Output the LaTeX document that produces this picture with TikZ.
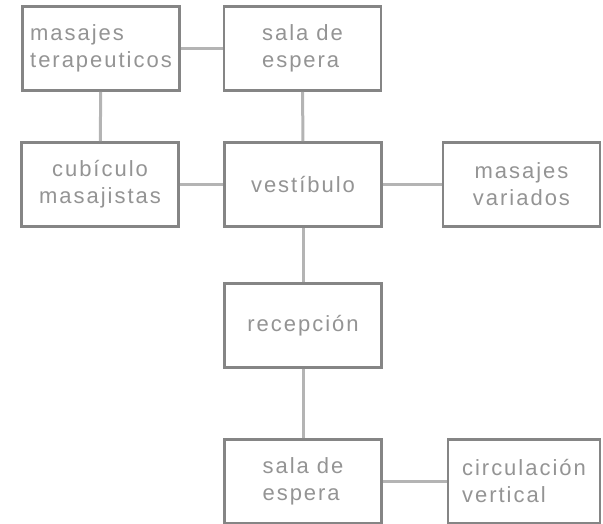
\documentclass[tikz,border=0pt]{standalone}
\usepackage{fontspec}
\setmainfont{Liberation Sans}[LetterSpace=9]
\usepackage{xcolor}
\usetikzlibrary{calc}

\definecolor{boxgray}{HTML}{858585}
\definecolor{textgray}{HTML}{949494}
\definecolor{linkgray}{HTML}{B4B4B4}

\begin{document}
\begin{tikzpicture}[x=1pt, y=-1pt,
		room/.style = {draw = boxgray, line width = 2.6pt, fill = white, text = textgray,
			inner sep = 0pt, font = \fontsize{22}{27}\selectfont},
		link/.style = {draw = linkgray, line width = 3pt}]
			\useasboundingbox (0,0) rectangle (603,524);
			
			\def\w{157};
			\def\h{84};
			
			% rooms
			\node [room, minimum width = \w, minimum height = \h, align = left] (terapeuticos) at (101,48.5) {masajes\\terapeuticos};
			\node [room, minimum width = \w, minimum height = \h, align = left] (sala arriba) at (302.5,48.5) {sala de\\espera};
			\node [room, minimum width = \w, minimum height = \h, align = center] (cubiculo) at (100,184.5) {cubículo\\masajistas};
			\node [room, minimum width = \w, minimum height = \h] (vestibulo) at (303,184.5) {vestíbulo};
			\node [room, minimum width = \w, minimum height = \h, align = center] (variados) at (521.5,184.5) {masajes\\variados};
			\node [room, minimum width = \w, minimum height = \h] (recepcion) at (303,325.5) {recepción};
			\node [room, minimum width = \w, minimum height = \h, align = left] (sala abajo) at (303,481.5) {sala de\\espera};
			\node [room, minimum width = 152, minimum height = \h, align = left] (circulacion) at (524,481.5) {circulación\\vertical};
			
			% links
			\begin{scope}[link]
				\draw (terapeuticos) -- (sala arriba);
				\draw (terapeuticos) -- (cubiculo);
				\draw (sala arriba) -- (vestibulo);
				\draw (cubiculo) -- (vestibulo);
				\draw (vestibulo) -- (variados);
				\draw (vestibulo) -- (recepcion);
				\draw (recepcion) -- (sala abajo);
				\draw (sala abajo) -- (circulacion);
			\end{scope}
		\end{tikzpicture}
\end{document}
